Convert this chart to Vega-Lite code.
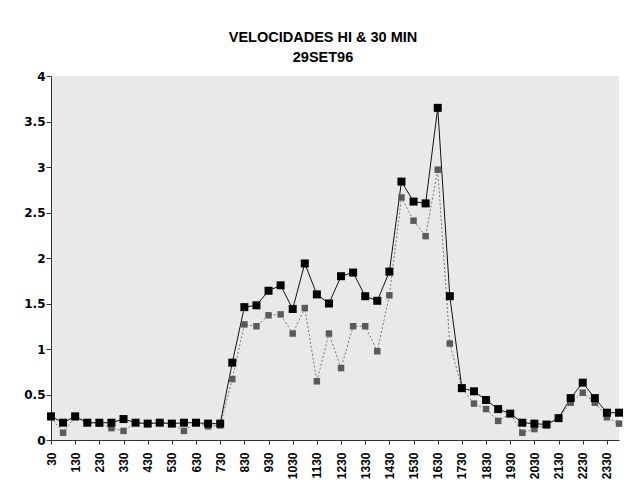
{
  "$schema": "https://vega.github.io/schema/vega-lite/v6.json",
  "width": 568,
  "height": 364,
  "autosize": "none",
  "padding": {"left": 51, "top": 76, "right": 9, "bottom": 47},
  "background": "white",
  "title": {
    "text": ["VELOCIDADES HI & 30 MIN", "29SET96"],
    "font": "Liberation Sans",
    "fontSize": 14.5,
    "fontWeight": "bold",
    "lineHeight": 20,
    "color": "black",
    "anchor": "middle",
    "dx": -12,
    "offset": 5
  },
  "config": {
    "view": {"fill": "#e9e9e9", "stroke": null},
    "axis": {
      "labelFont": "Liberation Sans",
      "labelFontWeight": "bold",
      "labelFontSize": 12,
      "labelColor": "black",
      "domainColor": "#333333",
      "tickColor": "#333333",
      "grid": false,
      "title": null
    },
    "axisY": {
      "labelFont": "DejaVu Sans",
      "labelFontWeight": "bold",
      "labelFontSize": 12,
      "tickSize": 5,
      "labelPadding": 1
    }
  },
  "data": {
    "values": [
      {"t": "30", "hi": 0.26, "m30": 0.25},
      {"t": "100", "hi": 0.19, "m30": 0.08},
      {"t": "130", "hi": 0.26, "m30": 0.25},
      {"t": "200", "hi": 0.19, "m30": 0.19},
      {"t": "230", "hi": 0.19, "m30": 0.18},
      {"t": "300", "hi": 0.19, "m30": 0.13},
      {"t": "330", "hi": 0.23, "m30": 0.10},
      {"t": "400", "hi": 0.19, "m30": 0.19},
      {"t": "430", "hi": 0.18, "m30": 0.18},
      {"t": "500", "hi": 0.19, "m30": 0.19},
      {"t": "530", "hi": 0.18, "m30": 0.18},
      {"t": "600", "hi": 0.19, "m30": 0.10},
      {"t": "630", "hi": 0.19, "m30": 0.19},
      {"t": "700", "hi": 0.18, "m30": 0.15},
      {"t": "730", "hi": 0.18, "m30": 0.16},
      {"t": "800", "hi": 0.85, "m30": 0.67},
      {"t": "830", "hi": 1.46, "m30": 1.27},
      {"t": "900", "hi": 1.48, "m30": 1.25},
      {"t": "930", "hi": 1.64, "m30": 1.37},
      {"t": "1000", "hi": 1.70, "m30": 1.38},
      {"t": "1030", "hi": 1.44, "m30": 1.17},
      {"t": "1100", "hi": 1.94, "m30": 1.45},
      {"t": "1130", "hi": 1.60, "m30": 0.645},
      {"t": "1200", "hi": 1.50, "m30": 1.17},
      {"t": "1230", "hi": 1.80, "m30": 0.79},
      {"t": "1300", "hi": 1.84, "m30": 1.25},
      {"t": "1330", "hi": 1.58, "m30": 1.25},
      {"t": "1400", "hi": 1.53, "m30": 0.975},
      {"t": "1430", "hi": 1.85, "m30": 1.59},
      {"t": "1500", "hi": 2.84, "m30": 2.665},
      {"t": "1530", "hi": 2.62, "m30": 2.41},
      {"t": "1600", "hi": 2.60, "m30": 2.24},
      {"t": "1630", "hi": 3.65, "m30": 2.97},
      {"t": "1700", "hi": 1.58, "m30": 1.06},
      {"t": "1730", "hi": 0.57, "m30": 0.57},
      {"t": "1800", "hi": 0.535, "m30": 0.40},
      {"t": "1830", "hi": 0.44, "m30": 0.34},
      {"t": "1900", "hi": 0.34, "m30": 0.21},
      {"t": "1930", "hi": 0.29, "m30": 0.29},
      {"t": "2000", "hi": 0.19, "m30": 0.08},
      {"t": "2030", "hi": 0.18, "m30": 0.12},
      {"t": "2100", "hi": 0.17, "m30": 0.17},
      {"t": "2130", "hi": 0.24, "m30": 0.24},
      {"t": "2200", "hi": 0.46, "m30": 0.41},
      {"t": "2230", "hi": 0.63, "m30": 0.52},
      {"t": "2300", "hi": 0.46, "m30": 0.41},
      {"t": "2330", "hi": 0.30, "m30": 0.25},
      {"t": "2400", "hi": 0.30, "m30": 0.18}
    ]
  },
  "encoding": {
    "x": {
      "field": "t",
      "type": "ordinal",
      "sort": null,
      "scale": {"type": "point", "padding": 0},
      "axis": {
        "labelAngle": -90,
        "labelAlign": "right",
        "labelBaseline": "middle",
        "tickSize": 4,
        "labelPadding": 8,
        "values": ["30","130","230","330","430","530","630","730","830","930","1030","1130","1230","1330","1430","1530","1630","1730","1830","1930","2030","2130","2230","2330"]
      }
    }
  },
  "layer": [
    {
      "mark": {"type": "line", "color": "#777777", "strokeWidth": 1, "strokeDash": [2, 2]},
      "encoding": {
        "y": {"field": "m30", "type": "quantitative", "scale": {"domain": [0, 4]},
          "axis": {"values": [0, 0.5, 1, 1.5, 2, 2.5, 3, 3.5, 4], "format": "~g"}}
      }
    },
    {
      "mark": {"type": "line", "color": "#111111", "strokeWidth": 1},
      "encoding": {"y": {"field": "hi", "type": "quantitative"}}
    },
    {
      "mark": {"type": "point", "shape": "square", "filled": true, "color": "#5a5a5a", "size": 42, "opacity": 1},
      "encoding": {"y": {"field": "m30", "type": "quantitative"}}
    },
    {
      "mark": {"type": "point", "shape": "square", "filled": true, "color": "black", "size": 64, "opacity": 1},
      "encoding": {"y": {"field": "hi", "type": "quantitative"}}
    }
  ]
}
